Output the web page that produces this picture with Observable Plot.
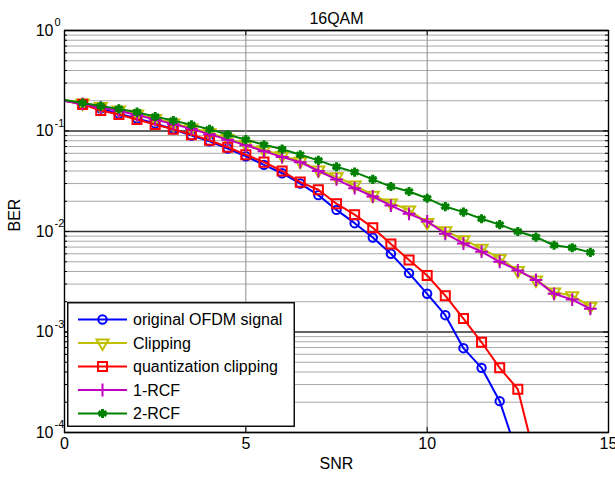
<!DOCTYPE html>
<html><head><meta charset="utf-8">
<script src="https://cdn.jsdelivr.net/npm/d3@7"></script>
<script src="https://cdn.jsdelivr.net/npm/@observablehq/plot@0.6"></script>
<style>
body{margin:0;background:#fff;}
#wrap{position:relative;width:615px;height:481px;font-family:"Liberation Sans",Arial,sans-serif;}
</style></head><body><div id="wrap"></div>
<script>
// ---- data ----
const snr = [0,0.5,1,1.5,2,2.5,3,3.5,4,4.5,5,5.5,6,6.5,7,7.5,8,8.5,9,9.5,10,10.5,11,11.5,12,12.5,13,13.5,14,14.5];
const berOriginal = [0.20,0.186,0.167,0.149,0.133,0.119,0.104,0.090,0.079,0.067,0.056,0.046,0.038,0.030,0.023,0.0164,0.0121,0.0087,0.0060,0.00385,0.0024,0.00147,0.00069,0.00044,0.000205,0.000059];
const berClipping = [0.203,0.190,0.175,0.162,0.148,0.133,0.120,0.107,0.096,0.084,0.074,0.065,0.057,0.050,0.041,0.035,0.029,0.023,0.0192,0.0164,0.0123,0.0102,0.0083,0.0068,0.0054,0.0041,0.0033,0.0025,0.0023,0.0018];
const berQuantClip = [0.20,0.184,0.160,0.146,0.130,0.116,0.104,0.092,0.081,0.069,0.058,0.049,0.040,0.031,0.026,0.0189,0.0147,0.0109,0.0075,0.0052,0.00365,0.0023,0.00136,0.00079,0.00044,0.00027,0.000051];
const berRCF1 = [0.20,0.186,0.171,0.158,0.144,0.130,0.117,0.105,0.093,0.082,0.072,0.063,0.055,0.049,0.040,0.033,0.027,0.0223,0.0181,0.0150,0.0126,0.0095,0.0076,0.0063,0.0050,0.0041,0.0033,0.0024,0.0021,0.0017];
const berRCF2 = [0.203,0.190,0.177,0.166,0.154,0.139,0.127,0.115,0.104,0.092,0.082,0.073,0.066,0.058,0.051,0.044,0.039,0.033,0.028,0.025,0.0214,0.0177,0.0156,0.0134,0.0117,0.0100,0.0088,0.0073,0.0069,0.0062];
const seriesNames = ["original OFDM signal","Clipping","quantization clipping","1-RCF","2-RCF"];
const xTicks = [0,5,10,15];
const xGrid = [5,10];
const yTicks = [1,0.1,0.01,0.001,0.0001];
const yTickExps = ["0","-1","-2","-3","-4"];
const titleText = "16QAM";
const xLabel = "SNR";
const yLabel = "BER";

// ---- styling ----
const colors = ["#0000ff","#bfbf00","#ff0000","#bf00bf","#008000"];
const styles = [
  {symbol:"circle", d3s:d3.symbolCircle, r:4.2, rotate:0, sw:2},
  {symbol:"triangle", d3s:d3.symbolTriangle, r:4.5, rotate:180, sw:2},
  {symbol:"square", d3s:d3.symbolSquare, r:5.1, rotate:0, sw:2},
  {symbol:"plus", d3s:d3.symbolPlus, r:4.2, rotate:0, sw:2},
  {symbol:"asterisk", d3s:d3.symbolAsterisk, r:4.3, rotate:0, sw:3}
];
const bers = [berOriginal, berClipping, berQuantClip, berRCF1, berRCF2];

const minorY = [];
for (const t of yTicks.slice(1)) for (let k = 2; k <= 9; k++) minorY.push(t * k);

const W = 615, H = 481, mL = 64, mR = 7, mT = 30, mB = 49;
const fw = W - mL - mR, fh = H - mT - mB;

const marks = [
  Plot.ruleY(minorY, {y: d => d, stroke: "#a8a8a8", strokeWidth: 1}),
  Plot.ruleY(yTicks, {y: d => d, stroke: "#303030", strokeWidth: 1.3}),
  Plot.ruleX(xGrid, {x: d => d, stroke: "#8c8c8c", strokeWidth: 1}),
  // inside ticks
  Plot.ruleY(yTicks, {y: d => d, insetRight: fw - 5, stroke: "black"}),
  Plot.ruleY(yTicks, {y: d => d, insetLeft: fw - 5, stroke: "black"}),
  Plot.ruleY(minorY, {y: d => d, insetRight: fw - 3, stroke: "black"}),
  Plot.ruleY(minorY, {y: d => d, insetLeft: fw - 3, stroke: "black"}),
  Plot.ruleX(xTicks, {x: d => d, insetTop: fh - 5, stroke: "black"}),
  Plot.ruleX(xTicks, {x: d => d, insetBottom: fh - 5, stroke: "black"}),
];
bers.forEach((ber, i) => {
  const rows = ber.map((b, j) => ({snr: snr[j], ber: b}));
  const st = styles[i];
  marks.push(Plot.line(rows, {x: "snr", y: "ber", stroke: colors[i], strokeWidth: 2, clip: true}));
  marks.push(Plot.dot(rows.filter(d => d.snr > 0), {x: "snr", y: "ber", symbol: st.symbol, r: st.r, rotate: st.rotate,
    stroke: colors[i], fill: "none", strokeWidth: st.sw, clip: true}));
});
marks.push(
  Plot.frame({stroke: "black", strokeWidth: 1.4}),
  Plot.text(xTicks, {x: d => d, frameAnchor: "bottom", dy: 16, text: d => String(d), fontSize: 16}),
  Plot.text(yTicks, {y: d => d, frameAnchor: "left", dx: -11, text: () => "10", textAnchor: "end", fontSize: 16}),
  Plot.text(yTicks, {y: d => d, frameAnchor: "left", dx: -10, dy: -8, text: (d, i) => yTickExps[i], textAnchor: "start", fontSize: 11}),
  Plot.text([titleText], {frameAnchor: "top", dy: -18, text: d => d, fontSize: 16}),
  Plot.text([xLabel], {frameAnchor: "bottom", dy: 36, text: d => d, fontSize: 16}),
  Plot.text([yLabel], {frameAnchor: "left", dx: -50, rotate: -90, text: d => d, fontSize: 16})
);

const chart = Plot.plot({
  width: W, height: H,
  marginLeft: mL, marginRight: mR, marginTop: mT, marginBottom: mB,
  style: {fontFamily: "'Liberation Sans', Arial, sans-serif", fontSize: "16px", background: "white", color: "black"},
  x: {domain: [0, 15], axis: null},
  y: {type: "log", domain: [1e-4, 1], axis: null},
  marks
});
const wrap = document.getElementById("wrap");
wrap.appendChild(chart);

// ---- legend ----
const leg = d3.select(wrap).append("svg")
  .attr("width", 228).attr("height", 125)
  .style("position", "absolute").style("left", "67px").style("top", "302px")
  .style("font-family", "'Liberation Sans', Arial, sans-serif");
leg.append("rect").attr("x", 0.75).attr("y", 0.75).attr("width", 226.5).attr("height", 123.5)
  .attr("fill", "white").attr("stroke", "black").attr("stroke-width", 1.4);
seriesNames.forEach((name, i) => {
  const y = 17.5 + i * 23.5;
  const g = leg.append("g").attr("transform", `translate(0,${y})`);
  g.append("line").attr("x1", 11).attr("x2", 60).attr("y1", 0).attr("y2", 0)
    .attr("stroke", colors[i]).attr("stroke-width", 2);
  const st = styles[i];
  g.append("path").attr("d", d3.symbol(st.d3s, Math.PI * st.r * st.r)())
    .attr("transform", `translate(35.5,0) rotate(${st.rotate})`)
    .attr("fill", "none").attr("stroke", colors[i]).attr("stroke-width", st.sw);
  g.append("text").attr("x", 66).attr("y", 0).attr("dy", "0.35em")
    .attr("font-size", 16).text(name);
});
</script></body></html>
